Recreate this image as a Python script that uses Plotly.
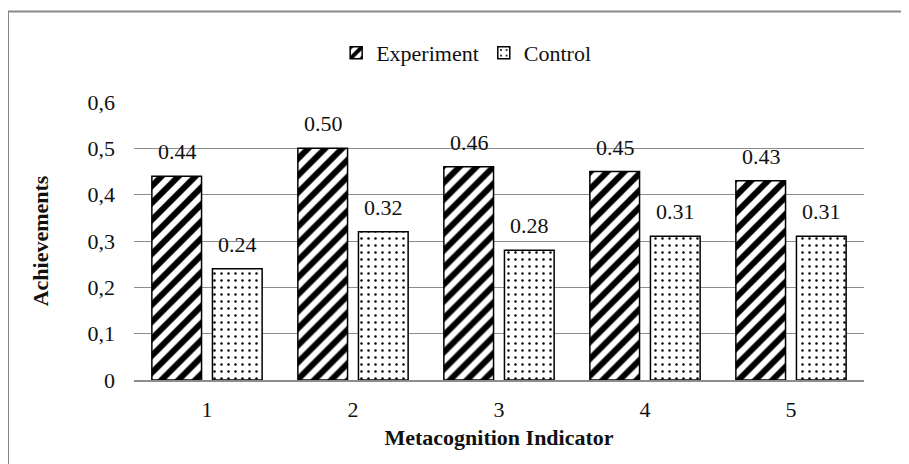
import plotly.graph_objects as go

categories = [1, 2, 3, 4, 5]
experiment = [0.44, 0.50, 0.46, 0.45, 0.43]
control = [0.24, 0.32, 0.28, 0.31, 0.31]
y_ticks = [0, 0.1, 0.2, 0.3, 0.4, 0.5, 0.6]
y_ticktext = ["0", "0,1", "0,2", "0,3", "0,4", "0,5", "0,6"]

FONT = "Liberation Serif, Times New Roman, serif"
FS = 22
TXT = "#111111"
GRID = "#8c8c8c"

OFF = 8  # page body margin
W, H = 909 - OFF, 464 - OFF
L, R, T, B = 134 - OFF, 53 - OFF, 102 - OFF, 84
pw, ph = W - L - R, H - T - B

fig = go.Figure()
fig.add_trace(go.Bar(
    name="Experiment", x=categories, y=experiment,
    marker=dict(color="white", line=dict(color="black", width=1.5),
                pattern=dict(shape="/", fgcolor="black", bgcolor="white", fgopacity=1,
                             size=12, solidity=0.5)),
))
fig.add_trace(go.Bar(
    name="Control", x=categories, y=control,
    marker=dict(color="white", line=dict(color="black", width=1.5),
                pattern=dict(shape=".", fgcolor="black", bgcolor="white", fgopacity=1,
                             size=7, solidity=0.1)),
))

for series, shift in ((experiment, -30), (control, 30)):
    for c, v in zip(categories, series):
        fig.add_annotation(x=c, y=v, xref="x", yref="y", text=f"{v:.2f}", showarrow=False,
                           xshift=shift, yshift=10, yanchor="bottom",
                           font=dict(family=FONT, size=FS, color=TXT))

# outer border (top & left visible)
fig.add_shape(type="rect", xref="paper", yref="paper",
              x0=(8 - OFF - L) / pw, x1=(W + 20 - L) / pw,
              y0=-(B + 20) / ph, y1=(H - B - (11.5 - OFF)) / ph,
              line=dict(color="#878787", width=2), fillcolor="rgba(0,0,0,0)", layer="below")

fig.update_layout(
    width=W, height=H,
    margin=dict(l=L, r=R, t=T, b=B, autoexpand=False),
    paper_bgcolor="white", plot_bgcolor="white",
    barmode="group", bargap=0.17, bargroupgap=0.18,
    font=dict(family=FONT, size=FS, color=TXT),
    showlegend=True,
    legend=dict(orientation="h", x=0.455, xanchor="center", y=(ph + (T - (53 - OFF))) / ph,
                yanchor="middle",
                font=dict(family=FONT, size=FS, color=TXT), itemwidth=30,
                bgcolor="rgba(0,0,0,0)", traceorder="normal"),
    xaxis=dict(tickmode="array", tickvals=categories, ticktext=[str(c) for c in categories],
               showgrid=False, showline=True, linecolor=GRID, linewidth=1.5,
               ticks="", ticklabelstandoff=9, range=[0.5, 5.5],
               tickfont=dict(family=FONT, size=FS, color=TXT),
               title=dict(text="<b>Metacognition Indicator</b>", standoff=8,
                          font=dict(family=FONT, size=FS, color=TXT))),
    yaxis=dict(range=[0, 0.6], tickmode="array", tickvals=y_ticks, ticktext=y_ticktext,
               showgrid=True, gridcolor=GRID, gridwidth=1.2, zeroline=False, showline=False,
               ticks="", ticklabelstandoff=18,
               tickfont=dict(family=FONT, size=FS, color=TXT),
               title=dict(text="<b>Achievements</b>", standoff=32,
                          font=dict(family=FONT, size=FS, color=TXT))),
)
fig.write_html("out.html")
